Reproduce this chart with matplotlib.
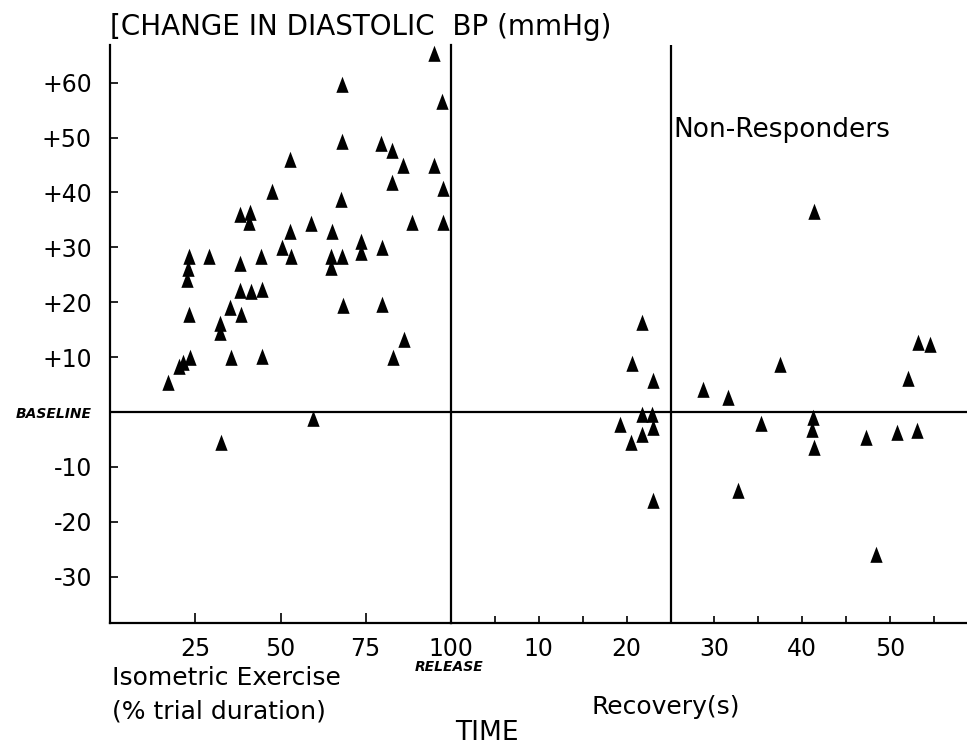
import numpy as np
import matplotlib
matplotlib.use("Agg")
import matplotlib.pyplot as plt

# Isometric exercise phase (% of trial duration, change in diastolic BP mmHg)
exercise_pct = [16.9, 20.3, 21.3, 23.5, 22.5, 23.0, 23.2, 23.3, 29.1, 32.2,
                32.4, 32.6, 35.1, 35.6, 38.0, 38.0, 38.2, 38.4, 40.7, 41.2,
                41.4, 44.4, 44.6, 44.6, 47.5, 50.3, 52.9, 52.9, 53.2, 59.0,
                59.6, 64.7, 64.7, 65.0, 67.6, 67.9, 67.9, 67.9, 68.3, 73.7,
                73.7, 79.6, 79.9, 79.9, 82.6, 82.8, 83.0, 86.0, 86.1, 88.7,
                94.9, 95.1, 97.5, 97.7, 97.8]
exercise_dbp = [5.2, 8.2, 9.0, 9.8, 24.0, 26.0, 28.2, 17.7, 28.2, 14.3,
                16.0, -5.7, 18.9, 9.8, 35.9, 27.0, 22.0, 17.7, 34.4, 36.2,
                21.9, 28.3, 22.2, 10.1, 40.1, 29.8, 45.9, 32.8, 28.3, 34.2,
                -1.2, 28.3, 26.3, 32.7, 38.6, 59.6, 49.2, 28.3, 19.3, 31.0,
                28.9, 48.9, 29.8, 19.5, 41.8, 47.6, 9.8, 44.8, 13.1, 34.4,
                44.8, 65.3, 56.5, 34.4, 40.6]

# Recovery phase (seconds after release)
recovery_s = [21.7, 20.6, 23.0, 19.3, 21.7, 22.9, 23.0, 21.8, 20.5, 23.0,
              41.3, 53.2, 54.5, 37.5, 52.0, 28.7, 31.5, 35.3, 41.2, 41.1,
              41.4, 47.3, 50.8, 53.1, 32.7, 48.4]
recovery_dbp = [16.2, 8.7, 5.6, -2.4, -0.5, -0.5, -3.0, -4.2, -5.7, -16.3,
                36.5, 12.5, 12.2, 8.6, 6.0, 4.0, 2.5, -2.1, -1.1, -3.3,
                -6.6, -4.8, -3.8, -3.4, -14.3, -26.0]

y_ticks = [60, 50, 40, 30, 20, 10, 0, -10, -20, -30]
y_labels = ["+60", "+50", "+40", "+30", "+20", "+10", "BASELINE", "-10", "-20", "-30"]
ex_ticks = [25, 50, 75, 100]
rec_major = [10, 20, 30, 40, 50]
rec_minor = [5, 15, 35, 45, 55]

#----------------------#

W, H = 967, 750
plt.rcParams['font.family'] = ['DejaVu Sans']
plt.rcParams['font.size'] = 16

fig = plt.figure(figsize=(W / 100, H / 100), dpi=100)

# pixel layout of the original figure
x_axis_px = 110
release_px = 451
bottom_px = 623
top_px = 45
zero_px = 412
px_per_mmhg = 5.49
px_per_s = 8.78

y_lo = (zero_px - bottom_px) / px_per_mmhg
y_hi = (zero_px - top_px) / px_per_mmhg

def fig_box(x0, x1):
    return [x0 / W, 1 - bottom_px / H, (x1 - x0) / W, (bottom_px - top_px) / H]

ax1 = fig.add_axes(fig_box(x_axis_px, release_px))
ax2 = fig.add_axes(fig_box(release_px, W), sharey=ax1)
ax2.patch.set_visible(False)

tri = [(0, 0.6), (-0.42, -0.5), (0.42, -0.5)]
ax1.scatter(exercise_pct, exercise_dbp, marker=tri, s=160, color='black', linewidths=0, zorder=3)
ax2.scatter(recovery_s, recovery_dbp, marker=tri, s=160, color='black', linewidths=0, zorder=3)

ax1.set_xlim(0, 100)
ax1.set_ylim(y_lo, y_hi)
ax2.set_xlim(0, (W - release_px) / px_per_s)

lw = 1.6
for ax in (ax1, ax2):
    ax.axhline(0, color='black', lw=lw)
    for s in ax.spines.values():
        s.set_linewidth(lw)
    ax.spines['top'].set_visible(False)

ax2.spines['left'].set_visible(False)
ax2.spines['right'].set_visible(False)
ax2.axvline(25, color='black', lw=lw)

# y axis
ax1.set_yticks(y_ticks)
ax1.set_yticklabels(y_labels)
ax1.tick_params(axis='y', direction='in', length=6, width=1.2, pad=13, labelsize=17)
for lab in ax1.get_yticklabels():
    if lab.get_text() == "BASELINE":
        lab.set_fontsize(10)
        lab.set_style('italic')
        lab.set_weight('bold')
ax2.tick_params(axis='y', left=False, labelleft=False)

# x axes
ax1.set_xticks(ex_ticks)
ax1.set_xticklabels([str(t) for t in ex_ticks])
ax1.tick_params(axis='x', direction='in', length=7, width=1.2, pad=10, labelsize=17)

ax2.set_xticks(rec_major)
ax2.set_xticklabels([str(t) for t in rec_major])
ax2.set_xticks(rec_minor, minor=True)
ax2.tick_params(axis='x', which='both', direction='in', length=5, width=1.2, pad=10, labelsize=17)

# texts
def px_text(x, y, s, **kw):
    fig.text(x / W, 1 - y / H, s, va='center', **kw)

px_text(110, 27, "[CHANGE IN DIASTOLIC  BP (mmHg)", fontsize=20)
px_text(449, 667, "RELEASE", fontsize=10, style='italic', weight='bold', ha='center')
px_text(112, 678, "Isometric Exercise", fontsize=18)
px_text(112, 712, "(% trial duration)", fontsize=18)
px_text(592, 707, "Recovery(s)", fontsize=18)
px_text(487, 733, "TIME", fontsize=19, ha='center')

ax2.text(25.3, 51.4, "Non-Responders", fontsize=19, va='center', ha='left')

fig.savefig("out.png", dpi=100)
